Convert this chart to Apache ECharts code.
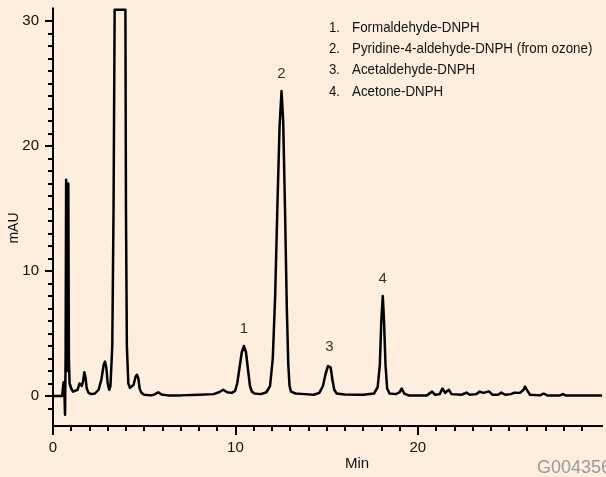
<!DOCTYPE html>
<html>
<head>
<meta charset="utf-8">
<script src="https://cdn.jsdelivr.net/npm/echarts@6/dist/echarts.min.js"></script>
<style>
html,body{margin:0;padding:0;background:#fdeede;}
#c{width:606px;height:477px;}
</style>
</head>
<body>
<div id="c"></div>
<script>
// Chromatogram trace: retention time (min) and absorbance (mAU)
var timeMin = [0,0.5,0.55,0.58,0.62,0.66,0.69,0.72,0.75,0.78,0.81,0.84,0.87,0.91,1.0,1.1,1.2,1.35,1.45,1.52,1.58,1.65,1.72,1.78,1.85,1.95,2.1,2.3,2.5,2.65,2.78,2.85,2.92,3.0,3.08,3.15,3.25,3.32,3.38,3.97,4.0,4.05,4.13,4.22,4.3,4.42,4.52,4.6,4.68,4.75,4.85,5.0,5.4,5.6,5.77,5.95,6.3,
  7,8,8.8,9.1,9.33,9.55,9.8,9.98,10.1,10.22,10.35,10.47,10.58,10.7,10.8,10.9,11.05,11.4,11.7,11.9,12.05,12.18,12.3,12.42,12.53,12.62,12.72,12.82,12.9,12.97,13.05,13.3,13.8,14.3,14.6,14.8,14.95,15.08,15.15,15.22,15.32,15.42,15.55,16,17,17.6,17.8,17.92,18.0,18.08,18.15,18.23,18.32,18.45,18.8,19.0,19.12,19.25,19.5,
  20.5,20.78,20.95,21.2,21.35,21.5,21.7,21.85,22.4,22.67,22.85,23.2,23.4,23.6,23.9,24.1,24.4,24.58,24.8,25.1,25.3,25.6,25.8,25.88,26.0,26.15,26.7,26.9,27.1,27.8,27.96,28.1,30.1];
var signalMAU = [0,0,0.1,1.1,0.5,-1.5,3,17.3,4,2,5,17.0,3,1.0,0.6,0.35,0.3,0.5,1.0,1.15,0.8,1.2,1.9,1.5,0.6,0.25,0.15,0.2,0.5,1.3,2.5,2.75,2.3,1.0,0.5,0.8,4,15,30.9,30.9,15,4,1.0,0.65,0.6,0.9,1.5,1.7,1.4,0.6,0.25,0.1,0.05,0.15,0.3,0.12,0.05,
  0.05,0.1,0.15,0.3,0.5,0.3,0.25,0.4,1.0,2.2,3.5,4.0,3.5,2.0,0.8,0.35,0.2,0.15,0.3,0.8,3,8,15,21.5,24.4,22,15,7,2.5,0.8,0.35,0.2,0.15,0.1,0.25,0.8,1.8,2.4,2.5,2.3,1.3,0.5,0.2,0.12,0.1,0.2,0.7,2.5,6,8.0,6,2.5,0.6,0.2,0.15,0.3,0.6,0.2,0.05,
  0.05,0.35,0.1,0.15,0.6,0.25,0.5,0.15,0.1,0.27,0.1,0.15,0.35,0.25,0.37,0.1,0.1,0.27,0.1,0.15,0.27,0.25,0.5,0.75,0.45,0.1,0.05,0.2,0.05,0.05,0.15,0.05,0.05];

// Numbered peaks
var peakTimes = [10.47, 12.53, 15.15, 18.08];
var peakHeights = [4.0, 24.4, 2.5, 8.0];
var peakLabels = ['1', '2', '3', '4'];

// Legend of compounds
var legendNums = ['1.', '2.', '3.', '4.'];
var legendNames = ['Formaldehyde-DNPH', 'Pyridine-4-aldehyde-DNPH (from ozone)', 'Acetaldehyde-DNPH', 'Acetone-DNPH'];

// Axes
var xMajorTicks = [0, 10, 20];
var xMinorTicks = [];
for (var j = 0; j <= 29; j++) xMinorTicks.push(j);
var yMajorTicks = [0, 10, 20, 30];
var yMinorTicks = [];
for (var k = -1; k <= 30; k++) yMinorTicks.push(k);

var trace = timeMin.map(function (t, i) { return [t, signalMAU[i]]; });
var peaks = peakTimes.map(function (t, i) { return [t, peakHeights[i], peakLabels[i]]; });

var FONT = 'Liberation Sans, Arial, Helvetica, sans-serif';

var graphics = [];
legendNums.forEach(function (n, i) {
  var y = 27.7 + i * 21.3;
  graphics.push({type: 'text', x: 329, y: y, scaleX: 0.88, style: {text: n, font: '15px ' + FONT, fill: '#111', align: 'left', verticalAlign: 'middle', textAlign: 'left', textVerticalAlign: 'middle'}});
  graphics.push({type: 'text', x: 352, y: y, scaleX: 0.89, style: {text: legendNames[i], font: '15px ' + FONT, fill: '#111', align: 'left', verticalAlign: 'middle', textAlign: 'left', textVerticalAlign: 'middle'}});
});
graphics.push({type: 'text', x: 357, y: 464, style: {text: 'Min', font: '15px ' + FONT, fill: '#111', align: 'center', verticalAlign: 'middle', textAlign: 'center', textVerticalAlign: 'middle'}});
graphics.push({type: 'text', x: 14, y: 228, rotation: Math.PI / 2, style: {text: 'mAU', font: '14px ' + FONT, fill: '#111', align: 'center', verticalAlign: 'middle', textAlign: 'center', textVerticalAlign: 'middle'}});
graphics.push({type: 'text', x: 537, y: 468, style: {text: 'G004356', font: '18px ' + FONT, fill: '#9a9a9a', align: 'left', verticalAlign: 'middle', textAlign: 'left', textVerticalAlign: 'middle'}});

var gridBox = {left: 53, right: 4, top: 8.5, bottom: 51, containLabel: false};

var chart = echarts.init(document.getElementById('c'), null, {renderer: 'canvas'});
chart.setOption({
  backgroundColor: '#fdeede',
  animation: false,
  grid: [Object.assign({}, gridBox), Object.assign({}, gridBox)],
  xAxis: [{
    gridIndex: 0, type: 'value', min: 0, max: 30.1, position: 'bottom',
    axisLine: {show: true, onZero: false, lineStyle: {color: '#000', width: 2}},
    axisTick: {show: true, customValues: xMajorTicks, length: 9, lineStyle: {color: '#000', width: 2}},
    axisLabel: {customValues: xMajorTicks, margin: 14, fontSize: 15, fontFamily: FONT, color: '#111'},
    splitLine: {show: false}
  }, {
    gridIndex: 1, type: 'value', min: 0, max: 30.1, position: 'bottom',
    axisLine: {show: true, onZero: false, lineStyle: {color: '#000', width: 2}},
    axisTick: {show: true, customValues: xMinorTicks, length: 5, lineStyle: {color: '#000', width: 2}},
    axisLabel: {show: false},
    splitLine: {show: false}
  }],
  yAxis: [{
    gridIndex: 0, type: 'value', min: -2.4, max: 31, position: 'left',
    axisLine: {show: true, onZero: false, lineStyle: {color: '#000', width: 2}},
    axisTick: {show: true, customValues: yMajorTicks, length: 8, lineStyle: {color: '#000', width: 2}},
    axisLabel: {customValues: yMajorTicks, margin: 14, fontSize: 15, fontFamily: FONT, color: '#111'},
    splitLine: {show: false}
  }, {
    gridIndex: 1, type: 'value', min: -2.4, max: 31, position: 'left',
    axisLine: {show: true, onZero: false, lineStyle: {color: '#000', width: 2}},
    axisTick: {show: true, customValues: yMinorTicks, length: 5, lineStyle: {color: '#000', width: 2}},
    axisLabel: {show: false},
    splitLine: {show: false}
  }],
  series: [{
    type: 'line', xAxisIndex: 0, yAxisIndex: 0,
    data: trace, symbol: 'none', clip: false,
    lineStyle: {color: '#000', width: 2.5, join: 'round'}
  }, {
    type: 'scatter', xAxisIndex: 0, yAxisIndex: 0,
    data: peaks, symbolSize: 0.1, itemStyle: {color: 'transparent'},
    label: {show: true, position: 'top', distance: 10, formatter: function (p) { return p.value[2]; }, fontSize: 15, fontFamily: FONT, color: '#000'}
  }],
  graphic: graphics
});
</script>
</body>
</html>
